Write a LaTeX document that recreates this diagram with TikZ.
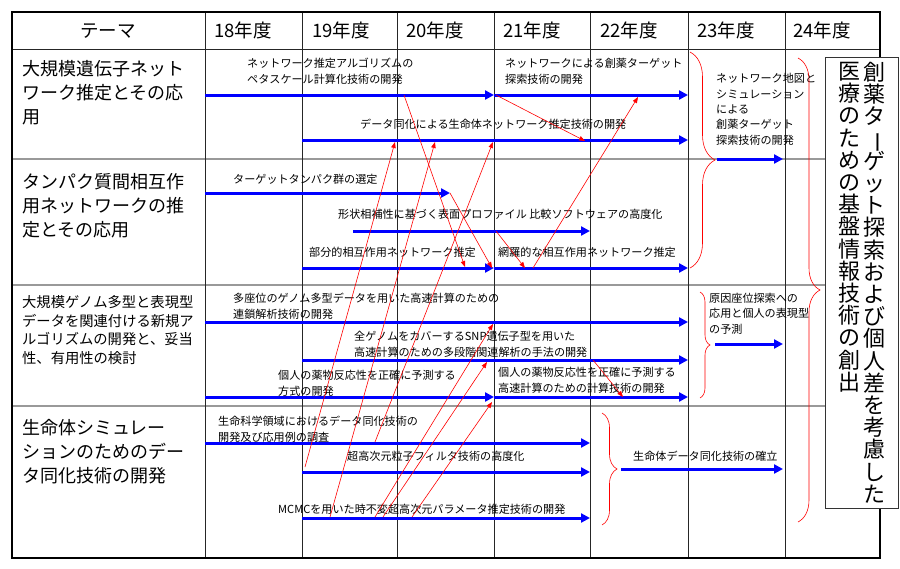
\documentclass[tikz,border=0pt]{standalone}
\usepackage{fontspec}
\setmainfont{Noto Sans CJK JP}
\usepackage{graphicx}
\usetikzlibrary{arrows.meta,decorations.pathreplacing}
\makeatletter
\def\tbar{ー}
\newcommand\tate[1]{\@tfor\tc:=#1\do{\ifx\tc\tbar\rotatebox[origin=c]{-90}{ー}\else\tc\fi\par}}
\makeatother
\tikzset{
  plan/.style={blue,line width=3pt,-{Triangle[length=9pt,width=9pt]}},
  link/.style={red,line width=0.6pt,-{Triangle[length=6pt,width=4.5pt]}},
  kakko/.style={red,line width=0.6pt,decorate,decoration={brace,amplitude=#1}},
  task/.style={anchor=base west,inner sep=0,align=left,font=\fontsize{11.1}{15.3}\selectfont},
  theme/.style={anchor=base west,inner sep=0,align=left,font=\fontsize{18}{24}\selectfont},
  head/.style={anchor=base west,inner sep=0,font=\fontsize{18.5}{20}\selectfont},
  tategaki/.style={anchor=north,inner sep=0,text width=24pt,align=center,font={\fontsize{22}{22.2}\selectfont\lineskiplimit=-50pt}},
}
\begin{document}
\begin{tikzpicture}[x=1pt,y=-1pt]
		\useasboundingbox (0,0) rectangle (900,568);
		
		\draw[black!40,line width=1.4pt] (12,159) -- (880,159) (12,285) -- (880,285) (12,406) -- (880,406);
		\draw[black!85,line width=0.8pt] (12,49) -- (880,49);
		\draw[black!85,line width=0.8pt] (205,12) -- (205,558) (302,12) -- (302,558) (397,12) -- (397,558) (494,12) -- (494,558);
		\draw[black!85,line width=0.8pt] (590,12) -- (590,558) (688,12) -- (688,558) (785,12) -- (785,558);
		\draw[line width=2.5pt] (12,12) rectangle (880,558);
		
		\node[head,anchor=base] (h0) at (108,37) {テーマ};
		\node[head] (h1) at (214,37) {18年度};
		\node[head] (h2) at (312,37) {19年度};
		\node[head] (h3) at (406,37) {20年度};
		\node[head] (h4) at (503,37) {21年度};
		\node[head] (h5) at (600,37) {22年度};
		\node[head] (h6) at (697,37) {23年度};
		\node[head] (h7) at (793,37) {24年度};
		
		\node[theme] (th1) at (22,123) {大規模遺伝子ネット\\ワーク推定とその応\\用};
		\node[theme] (th2) at (22,236) {タンパク質間相互作\\用ネットワークの推\\定とその応用};
		\node[theme,font=\fontsize{14.3}{18.5}\selectfont] (th3) at (22,363) {大規模ゲノム多型と表現型\\データを関連付ける新規ア\\ルゴリズムの開発と、妥当\\性、有用性の検討};
		\node[theme] (th4) at (22,482) {生命体シミュレー\\ションのためのデー\\タ同化技術の開発};
		
		\node[task] (ta1) at (247,83) {ネットワーク推定アルゴリズムの\\ペタスケール計算化技術の開発};
		\node[task] (ta2) at (505,83) {ネットワークによる創薬ターゲット\\探索技術の開発};
		\node[task] (ta3) at (360,128) {データ同化による生命体ネットワーク推定技術の開発};
		\node[task] (ta4) at (716,144) {ネットワーク地図と\\シミュレーション\\による\\創薬ターゲット\\探索技術の開発};
		\node[task] (tb1) at (233,183) {ターゲットタンパク群の選定};
		\node[task] (tb2) at (338,218) {形状相補性に基づく表面プロファイル 比較ソフトウェアの高度化};
		\node[task] (tb3) at (309,256) {部分的相互作用ネットワーク推定};
		\node[task] (tb4) at (498,256) {網羅的な相互作用ネットワーク推定};
		\node[task] (tc1) at (233,318) {多座位のゲノム多型データを用いた高速計算のための\\連鎖解析技術の開発};
		\node[task] (tc2) at (354,356) {全ゲノムをカバーするSNP遺伝子型を用いた\\高速計算のための多段階関連解析の手法の開発};
		\node[task] (tc3) at (278,395) {個人の薬物反応性を正確に予測する\\方式の開発};
		\node[task] (tc4) at (498,392) {個人の薬物反応性を正確に予測する\\高速計算のための計算技術の開発};
		\node[task] (tc5) at (709,333) {原因座位探索への\\応用と個人の表現型\\の予測};
		\node[task] (td1) at (218,441) {生命科学領域におけるデータ同化技術の\\開発及び応用例の調査};
		\node[task] (td2) at (347,460) {超高次元粒子フィルタ技術の高度化};
		\node[task] (td3) at (278,513) {MCMCを用いた時不変超高次元パラメータ推定技術の開発};
		\node[task] (td4) at (633,460) {生命体データ同化技術の確立};
		
		\coordinate (a1s) at (205,95);
		\coordinate (a1e) at (494,95);
		\coordinate (a2s) at (494,95);
		\coordinate (a2e) at (688,95);
		\coordinate (a3s) at (302,140);
		\coordinate (a3e) at (688,140);
		\coordinate (a4s) at (717,159);
		\coordinate (a4e) at (783,159);
		\coordinate (b1s) at (205,193);
		\coordinate (b1e) at (450,193);
		\coordinate (b2s) at (353,231);
		\coordinate (b2e) at (590,231);
		\coordinate (b3s) at (302,268);
		\coordinate (b3e) at (494,268);
		\coordinate (b4s) at (494,268);
		\coordinate (b4e) at (688,268);
		\coordinate (c1s) at (205,322);
		\coordinate (c1e) at (688,322);
		\coordinate (c2s) at (302,360);
		\coordinate (c2e) at (688,360);
		\coordinate (c3s) at (205,397);
		\coordinate (c3e) at (494,397);
		\coordinate (c4s) at (494,397);
		\coordinate (c4e) at (688,397);
		\coordinate (c5s) at (715,344);
		\coordinate (c5e) at (783,344);
		\coordinate (d1s) at (205,443);
		\coordinate (d1e) at (590,443);
		\coordinate (d2s) at (302,472);
		\coordinate (d2e) at (590,472);
		\coordinate (d3s) at (302,518);
		\coordinate (d3e) at (590,518);
		\coordinate (d4s) at (621,469);
		\coordinate (d4e) at (783,469);
		
		\draw[plan] (a1s) -- (a1e);
		\draw[plan] (a2s) -- (a2e);
		\draw[plan] (a3s) -- (a3e);
		\draw[plan] (a4s) -- (a4e);
		\draw[plan] (b1s) -- (b1e);
		\draw[plan] (b2s) -- (b2e);
		\draw[plan] (b3s) -- (b3e);
		\draw[plan] (b4s) -- (b4e);
		\draw[plan] (c1s) -- (c1e);
		\draw[plan] (c2s) -- (c2e);
		\draw[plan] (c3s) -- (c3e);
		\draw[plan] (c4s) -- (c4e);
		\draw[plan] (c5s) -- (c5e);
		\draw[plan] (d1s) -- (d1e);
		\draw[plan] (d2s) -- (d2e);
		\draw[plan] (d3s) -- (d3e);
		\draw[plan] (d4s) -- (d4e);
		
		\coordinate (r1s) at (404,95);
		\coordinate (r1e) at (465,267);
		\coordinate (r2s) at (496,95);
		\coordinate (r2e) at (585,141);
		\coordinate (r3e) at (492,268);
		\coordinate (r4s) at (496,231);
		\coordinate (r4e) at (525,268);
		\coordinate (r5s) at (533,268);
		\coordinate (r5e) at (638,97);
		\coordinate (r6s) at (305,467);
		\coordinate (r6e) at (395,142);
		\coordinate (r7s) at (330,517);
		\coordinate (r7e) at (435,142);
		\coordinate (r8s) at (375,442);
		\coordinate (r8e) at (493,142);
		\coordinate (r9s) at (375,517);
		\coordinate (r9e) at (493,324);
		\coordinate (r10s) at (383,517);
		\coordinate (r10e) at (487,362);
		\coordinate (r11s) at (412,517);
		\coordinate (r11e) at (492,402);
		\coordinate (r12s) at (593,360);
		\coordinate (r12e) at (623,397);
		
		\draw[link] (r1s) -- (r1e);
		\draw[link] (r2s) -- (r2e);
		\draw[link] (b1e) -- (r3e);
		\draw[link] (r4s) -- (r4e);
		\draw[link] (r5s) -- (r5e);
		\draw[link] (r6s) -- (r6e);
		\draw[link] (r7s) -- (r7e);
		\draw[link] (r8s) -- (r8e);
		\draw[link] (r9s) -- (r9e);
		\draw[link] (r10s) -- (r10e);
		\draw[link] (r11s) -- (r11e);
		\draw[link] (r12s) -- (r12e);
		
		\coordinate (k1a) at (690,52);
		\coordinate (k1b) at (690,268);
		\coordinate (k2a) at (700,292);
		\coordinate (k2b) at (700,398);
		\coordinate (k3a) at (602,413);
		\coordinate (k3b) at (602,525);
		\coordinate (k4a) at (798,58);
		\coordinate (k4b) at (798,522);
		
		\draw[kakko=25] (k1a) -- (k1b);
		\draw[kakko=10] (k2a) -- (k2b);
		\draw[kakko=15] (k3a) -- (k3b);
		\draw[kakko=22] (k4a) -- (k4b);
		
		\draw[black!80,fill=white,line width=0.8pt] (825,57) rectangle (898,508);
		\node[tategaki] (v1) at (874,62) {\tate{創薬ターゲット探索および個人差を考慮した}};
		\node[tategaki] (v2) at (849,62) {\tate{医療のための基盤情報技術の創出}};
	\end{tikzpicture}
\end{document}
